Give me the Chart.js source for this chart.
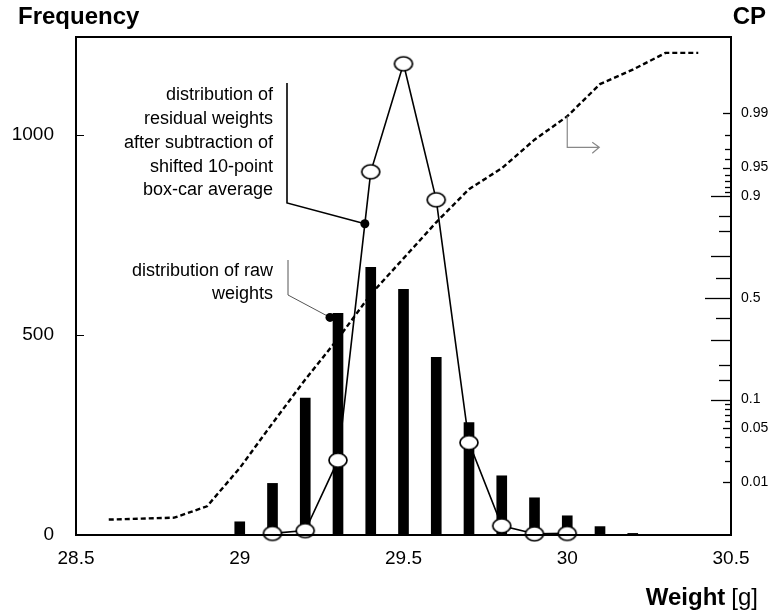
<!DOCTYPE html>
<html>
<head>
<meta charset="utf-8">
<title>Weight distribution</title>
<script src="https://cdn.jsdelivr.net/npm/chart.js@4.4.1/dist/chart.umd.min.js"></script>
<style>
  body { margin: 0; background: #fff; }
  canvas { display: block; }
</style>
</head>
<body>
<canvas id="weights" width="773" height="612"></canvas>
<script>
// raw weights in 0.1 g classes
var rawWeights = [29.0, 29.1, 29.2, 29.3, 29.4, 29.5, 29.6, 29.7, 29.8, 29.9, 30.0, 30.1, 30.2];
var rawFreq = [33, 129, 342, 554, 669, 614, 444, 281, 148, 93, 48, 21, 4];

// residual weights (after the shifted box-car average is subtracted)
var residWeights = [29.1, 29.2, 29.3, 29.4, 29.5, 29.6, 29.7, 29.8, 29.9, 30.0];
var residFreq = [4, 11, 187, 908, 1178, 838, 231, 23, 3, 4];

// cumulative probability of the raw weights
var cpWeights = [28.6, 28.7, 28.8, 28.9, 29.0, 29.1, 29.2, 29.3, 29.4, 29.5, 29.6, 29.7, 29.8, 29.9, 30.0, 30.1, 30.2, 30.3, 30.4];
var cpValues = [0.0026, 0.0027, 0.0028, 0.0043, 0.016, 0.057, 0.152, 0.304, 0.518, 0.691, 0.830, 0.915, 0.949, 0.977, 0.989, 0.9965, 0.998, 0.999, 0.999];

var freqTicks = [0, 500, 1000];
var cpLabels = [0.01, 0.05, 0.1, 0.5, 0.9, 0.95, 0.99];
var cpMarks = [0.01, 0.02, 0.03, 0.04, 0.05, 0.06, 0.07, 0.08, 0.09, 0.1, 0.15, 0.2, 0.3, 0.4, 0.5,
               0.6, 0.7, 0.8, 0.85, 0.9, 0.91, 0.92, 0.93, 0.94, 0.95, 0.96, 0.97, 0.98, 0.99];
var cpRange = [0.0014, 0.9995];

// inverse normal cdf (Acklam), used for the probability axis
function probit(p) {
  var a = [-39.69683028665376, 220.9460984245205, -275.9285104469687, 138.3577518672690, -30.66479806614716, 2.506628277459239];
  var b = [-54.47609879822406, 161.5858368580409, -155.6989798598866, 66.80131188771972, -13.28068155288572];
  var c = [-0.007784894002430293, -0.3223964580411365, -2.400758277161838, -2.549732539343734, 4.374664141464968, 2.938163982698783];
  var d = [0.007784695709041462, 0.3224671290700398, 2.445134137142996, 3.754408661907416];
  var q, r;
  if (p < 0.02425) {
    q = Math.sqrt(-2 * Math.log(p));
    return (((((c[0]*q+c[1])*q+c[2])*q+c[3])*q+c[4])*q+c[5]) / ((((d[0]*q+d[1])*q+d[2])*q+d[3])*q+1);
  }
  if (p > 1 - 0.02425) {
    q = Math.sqrt(-2 * Math.log(1 - p));
    return -(((((c[0]*q+c[1])*q+c[2])*q+c[3])*q+c[4])*q+c[5]) / ((((d[0]*q+d[1])*q+d[2])*q+d[3])*q+1);
  }
  q = p - 0.5; r = q * q;
  return (((((a[0]*r+a[1])*r+a[2])*r+a[3])*r+a[4])*r+a[5])*q / (((((b[0]*r+b[1])*r+b[2])*r+b[3])*r+b[4])*r+1);
}

// open ellipse used as marker for the residual curve
function ellipseMarker(w, h) {
  var cv = document.createElement('canvas');
  cv.width = w + 4; cv.height = h + 4;
  var g = cv.getContext('2d');
  g.beginPath();
  g.ellipse(cv.width / 2, cv.height / 2, w / 2, h / 2, 0, 0, Math.PI * 2);
  g.fillStyle = '#fff';
  g.fill();
  g.lineWidth = 1.7;
  g.strokeStyle = '#000';
  g.stroke();
  return cv;
}

var FONT = "'Liberation Sans', Arial, Helvetica, sans-serif";
Chart.defaults.font.family = FONT;
Chart.defaults.color = '#000';

function tickLen(p) {
  if (p === 0.5) return 26;
  if ([0.1, 0.3, 0.7, 0.9].indexOf(p) >= 0) return 20;
  if ([0.4, 0.6].indexOf(p) >= 0) return 15;
  if ([0.15, 0.2, 0.8, 0.85].indexOf(p) >= 0) return 12;
  if ([0.01, 0.05, 0.95, 0.99].indexOf(p) >= 0) return 8;
  return 6;
}

var decor = {
  id: 'decor',
  afterDatasetsDraw: function(chart) {
    var ctx = chart.ctx, a = chart.chartArea;
    var x = chart.scales.x, y = chart.scales.y, cp = chart.scales.cp;
    ctx.save();

    // frame
    ctx.strokeStyle = '#000';
    ctx.lineWidth = 2;
    ctx.strokeRect(a.left, a.top, a.right - a.left, a.bottom - a.top);

    // inward ticks, frequency axis
    ctx.lineWidth = 1;
    freqTicks.slice(1).forEach(function(v) {
      var py = Math.round(y.getPixelForValue(v)) + 0.5;
      ctx.beginPath(); ctx.moveTo(a.left, py); ctx.lineTo(a.left + 8, py); ctx.stroke();
    });

    // inward ticks, probability axis
    ctx.lineWidth = 1.3;
    cpMarks.forEach(function(p) {
      var py = Math.round(cp.getPixelForValue(probit(p))) + 0.5;
      ctx.beginPath(); ctx.moveTo(a.right - tickLen(p), py); ctx.lineTo(a.right, py); ctx.stroke();
    });

    // label for the residual curve
    var x3 = x.getPixelForValue(29.3), x4 = x.getPixelForValue(29.4);
    var y3 = y.getPixelForValue(residFreq[2]), y4 = y.getPixelForValue(residFreq[3]);
    var t = 0.82;
    var dx = x3 + t * (x4 - x3), dy = y3 + t * (y4 - y3);
    ctx.strokeStyle = '#000';
    ctx.lineWidth = 1.6;
    ctx.beginPath();
    ctx.moveTo(287, 83); ctx.lineTo(287, 203); ctx.lineTo(dx, dy);
    ctx.stroke();
    ctx.fillStyle = '#000';
    ctx.beginPath(); ctx.arc(dx, dy, 4.5, 0, Math.PI * 2); ctx.fill();

    // label for the raw bars
    var bx = x.getPixelForValue(29.3) - 8, by = y.getPixelForValue(rawFreq[3]) + 4;
    ctx.strokeStyle = '#555';
    ctx.lineWidth = 1;
    ctx.beginPath();
    ctx.moveTo(288, 260); ctx.lineTo(288, 295); ctx.lineTo(bx, by);
    ctx.stroke();
    ctx.beginPath(); ctx.arc(bx, by, 4.5, 0, Math.PI * 2); ctx.fill();

    // arrow pointing the CP curve to its axis
    var ax = x.getPixelForValue(30.0), ay = cp.getPixelForValue(probit(cpValues[14]));
    ctx.strokeStyle = '#888';
    ctx.lineWidth = 1.2;
    ctx.beginPath();
    ctx.moveTo(ax, ay); ctx.lineTo(ax, ay + 31); ctx.lineTo(ax + 32, ay + 31);
    ctx.moveTo(ax + 25, ay + 26); ctx.lineTo(ax + 32, ay + 31); ctx.lineTo(ax + 25, ay + 37);
    ctx.stroke();

    // annotation text
    ctx.fillStyle = '#000';
    ctx.font = '18px ' + FONT;
    ctx.textAlign = 'right';
    ctx.textBaseline = 'middle';
    ['distribution of', 'residual weights', 'after subtraction of', 'shifted 10-point', 'box-car average']
      .forEach(function(s, i) { ctx.fillText(s, 273, 95.5 + i * 23.7); });
    ['distribution of raw', 'weights']
      .forEach(function(s, i) { ctx.fillText(s, 273, 271 + i * 23); });

    // axis titles
    ctx.font = 'bold 24px ' + FONT;
    ctx.textAlign = 'left';
    ctx.textBaseline = 'alphabetic';
    ctx.fillText('Frequency', 18, 24);
    ctx.textAlign = 'right';
    ctx.fillText('CP', 766, 24);
    ctx.font = '24px ' + FONT;
    var gw = ctx.measureText('[g]').width;
    ctx.fillText('[g]', 758, 605);
    ctx.font = 'bold 24px ' + FONT;
    ctx.fillText('Weight', 758 - gw - 6, 605);

    ctx.restore();
  }
};

new Chart(document.getElementById('weights'), {
  type: 'bar',
  data: {
    datasets: [{
      type: 'line',
      label: 'residual weights',
      data: residWeights.map(function(w, i) { return { x: w, y: residFreq[i] }; }),
      borderColor: '#000',
      borderWidth: 1.6,
      tension: 0,
      pointStyle: ellipseMarker(18, 14),
      pointRadius: 9,
      clip: false,
      yAxisID: 'y',
      order: 1
    }, {
      type: 'line',
      label: 'CP',
      data: cpWeights.map(function(w, i) { return { x: w, y: probit(cpValues[i]) }; }),
      borderColor: '#000',
      borderWidth: 2.4,
      borderDash: [5, 3],
      tension: 0,
      pointRadius: 0,
      yAxisID: 'cp',
      order: 2
    }, {
      type: 'bar',
      label: 'raw weights',
      data: rawWeights.map(function(w, i) { return { x: w, y: rawFreq[i] }; }),
      backgroundColor: '#000',
      barThickness: 10,
      yAxisID: 'y',
      order: 3
    }]
  },
  options: {
    responsive: false,
    devicePixelRatio: 1,
    animation: false,
    layout: { padding: { top: 37, left: 0, right: 0, bottom: 0 } },
    plugins: { legend: { display: false }, tooltip: { enabled: false } },
    scales: {
      x: {
        type: 'linear',
        min: 28.5,
        max: 30.5,
        offset: false,
        grid: { display: false, drawTicks: false, offset: false },
        border: { display: false },
        ticks: {
          stepSize: 0.5,
          padding: 12,
          font: { size: 19 },
          maxRotation: 0,
          callback: function(v) { return String(+v.toFixed(1)); }
        },
        afterFit: function(s) { s.height = 77; }
      },
      y: {
        position: 'left',
        min: 0,
        max: 1245,
        grid: { display: false, drawTicks: false },
        border: { display: false },
        ticks: {
          padding: 22,
          font: { size: 19 },
          callback: function(v) { return String(v); }
        },
        afterBuildTicks: function(s) { s.ticks = freqTicks.map(function(v) { return { value: v }; }); },
        afterFit: function(s) { s.width = 76; }
      },
      cp: {
        position: 'right',
        type: 'linear',
        min: probit(cpRange[0]),
        max: probit(cpRange[1]),
        grid: { display: false, drawTicks: false },
        border: { display: false },
        ticks: {
          padding: 10,
          font: { size: 14 },
          callback: function(v, i) { return String(cpLabels[i]); }
        },
        afterBuildTicks: function(s) { s.ticks = cpLabels.map(function(p) { return { value: probit(p) }; }); },
        afterFit: function(s) { s.width = 42; }
      }
    }
  },
  plugins: [decor]
});
</script>
</body>
</html>
